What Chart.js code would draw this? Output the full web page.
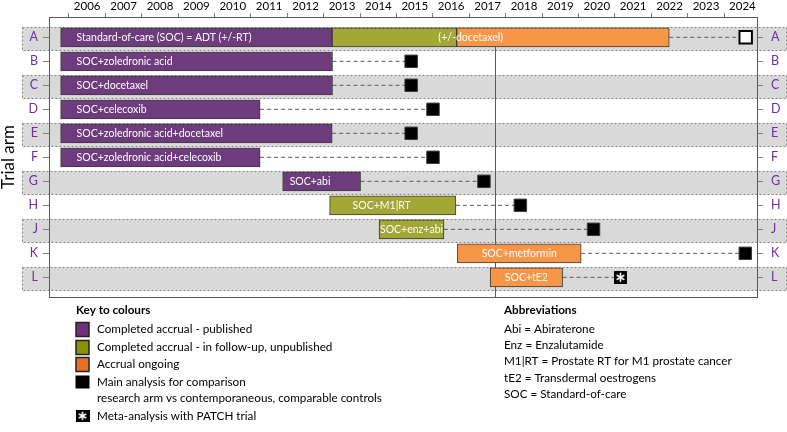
<!DOCTYPE html>
<html><head><meta charset="utf-8">
<script src="https://cdn.jsdelivr.net/npm/chart.js@4.4.1/dist/chart.umd.min.js"></script>
<style>html,body{margin:0;padding:0;background:#fff;} #wrap{width:787px;height:432px;}</style>
</head><body><div id="wrap"><canvas id="c" width="787" height="432"></canvas></div>
<script>
// ---------- DATA ----------
const arms = ['A','B','C','D','E','F','G','H','J','K','L'];
const armLabels = ['Standard-of-care (SOC) = ADT (+/-RT)','SOC+zoledronic acid','SOC+docetaxel','SOC+celecoxib',
  'SOC+zoledronic acid+docetaxel','SOC+zoledronic acid+celecoxib','SOC+abi','SOC+M1|RT','SOC+enz+abi','SOC+metformin','SOC+tE2'];
const publishedStart = [2005.77,2005.77,2005.77,2005.77,2005.77,2005.77,2011.87,null,null,null,null];
const publishedEnd   = [2013.23,2013.24,2013.24,2011.25,2013.23,2011.25,2014.01,null,null,null,null];
const followupStart  = [2013.23,null,null,null,null,null,null,2013.16,2014.52,null,null];
const followupEnd    = [2016.65,null,null,null,null,null,null,2016.63,2016.30,null,null];
const ongoingStart   = [2016.65,null,null,null,null,null,null,null,null,2016.67,2017.57];
const ongoingEnd     = [2022.49,null,null,null,null,null,null,null,null,2020.07,2019.56];
const analysisYear   = [2024.59,2015.40,2015.40,2016.00,2015.40,2016.00,2017.40,2018.40,2020.41,2024.58,2021.15];
const analysisType   = ['planned','main','main','main','main','main','main','main','main','main','meta'];
const yearTicks  = [2006,2007,2008,2009,2010,2011,2012,2013,2014,2015,2016,2017,2018,2019,2020,2021,2022,2023,2024];
const yearLabels = ['2006','2007','2008','2009','2010','2011','2012','2013','2014','2015','2016','2017','2018','2019','2020','2021','2022','2023','2024'];
const referenceYear = 2017.69;
const shadedArms = ['A','C','E','G','J','L'];
const armAExtraLabel = '(+/-docetaxel)';
const keyTitle = 'Key to colours';
const keyItems = ['Completed accrual - published','Completed accrual - in follow-up, unpublished','Accrual ongoing',
  'Main analysis for comparison','research arm vs contemporaneous, comparable controls','Meta-analysis with PATCH trial'];
const abbrTitle = 'Abbreviations';
const abbrItems = ['Abi = Abiraterone','Enz = Enzalutamide','M1|RT = Prostate RT for M1 prostate cancer','tE2 = Transdermal oestrogens','SOC = Standard-of-care'];

// ---------- STYLE ----------
const FONT = 'Lato';
const barColors = {published:'#6e3b7c', followup:'#a3a736', ongoing:'#f79646'};
const keyColors = ['#70307c','#8a9400','#e6702a'];
const labelStyle = {A:{align:'left',pad:16},B:{align:'left',pad:16},C:{align:'left',pad:16},D:{align:'left',pad:16},
  E:{align:'left',pad:16},F:{align:'left',pad:16},G:{align:'left',pad:7},H:{align:'left',pad:23}};
const XMIN = 2005.451, XMAX = 2024.901, YMIN = -0.846, YMAX = 10.82;

Chart.defaults.font.family = FONT;

// build bar segments
const segments = [];
arms.forEach((a,i)=>{
  if (publishedStart[i]!=null) segments.push({x:[publishedStart[i],publishedEnd[i]], y:i, status:'published'});
  if (followupStart[i]!=null) segments.push({x:[followupStart[i],followupEnd[i]], y:i, status:'followup'});
  if (ongoingStart[i]!=null) segments.push({x:[ongoingStart[i],ongoingEnd[i]], y:i, status:'ongoing'});
});
const accrualEnd = arms.map((a,i)=>Math.max(...[publishedEnd[i],followupEnd[i],ongoingEnd[i]].filter(v=>v!=null)));

// meta-analysis marker image (black square with white asterisk)
function makeMetaImg(w,h){
  const cv = document.createElement('canvas'); cv.width=w; cv.height=h;
  const c = cv.getContext('2d'); c.fillStyle='#000'; c.fillRect(0,0,w,h);
  c.strokeStyle='#fff'; c.lineWidth=1.6; c.lineCap='round';
  const cx=w/2, cy=h/2, r=Math.min(w,h)*0.3;
  for (let k=0;k<3;k++){ const a=Math.PI/2 + k*Math.PI/3;
    c.beginPath(); c.moveTo(cx-r*Math.cos(a), cy-r*Math.sin(a)); c.lineTo(cx+r*Math.cos(a), cy+r*Math.sin(a)); c.stroke(); }
  return cv;
}
const metaImg = makeMetaImg(13,13);
const metaKeyImg = makeMetaImg(14,12);

const datasets = [];
datasets.push({type:'bar', indexAxis:'y', xAxisID:'x', yAxisID:'y', data:segments, order:2,
  backgroundColor: ctx => barColors[ctx.raw.status], borderColor:'#3b3b3b', borderWidth:1, borderSkipped:false,
  barThickness:19});
arms.forEach((a,i)=>{
  datasets.push({type:'line', xAxisID:'x', yAxisID:'y', order:3,
    data:[{x:accrualEnd[i],y:i},{x:analysisYear[i],y:i}],
    borderColor:'#595959', borderWidth:1, borderDash:[4,3], pointRadius:0, fill:false});
});
datasets.push({type:'scatter', xAxisID:'x', yAxisID:'y', order:1,
  data: arms.map((a,i)=>({x:analysisYear[i], y:i})),
  pointStyle: ctx => analysisType[ctx.dataIndex]==='meta' ? metaImg : 'rect',
  pointRadius: 8.8,
  pointBackgroundColor: ctx => analysisType[ctx.dataIndex]==='planned' ? '#ffffff' : '#000000',
  pointBorderColor: ctx => analysisType[ctx.dataIndex]==='planned' ? '#000000' : '#3a3a3a',
  pointBorderWidth: ctx => analysisType[ctx.dataIndex]==='planned' ? 2 : 1});

const bandsPlugin = {id:'bands', beforeDraw(chart){
  const ys = chart.scales.y, ctx = chart.ctx;
  const pitch = Math.abs(ys.getPixelForValue(1)-ys.getPixelForValue(0));
  const h = pitch*0.94;
  ctx.save();
  shadedArms.forEach(a=>{
    const i = arms.indexOf(a);
    const cy = ys.getPixelForValue(i)+0.7;
    const top = Math.round(cy-h/2)+0.5, left = 22.5, right = chart.width-0.5;
    ctx.fillStyle='#d9d9d9'; ctx.fillRect(left,top,right-left,Math.round(h));
    ctx.strokeStyle='#808080'; ctx.lineWidth=1; ctx.setLineDash([2,2]);
    ctx.strokeRect(left,top,right-left,Math.round(h));
  });
  ctx.restore();
}};

const refLinePlugin = {id:'refline', beforeDatasetsDraw(chart){
  const xs = chart.scales.x, ys = chart.scales.y, ctx = chart.ctx;
  const x = Math.round(xs.getPixelForValue(referenceYear))+0.5;
  ctx.save(); ctx.strokeStyle='#595959'; ctx.lineWidth=1;
  ctx.beginPath(); ctx.moveTo(x, ys.getPixelForValue(0)+9); ctx.lineTo(x, chart.chartArea.bottom); ctx.stroke();
  ctx.restore();
}};

const barTextPlugin = {id:'bartext', afterDatasetsDraw(chart){
  const meta = chart.getDatasetMeta(0), ctx = chart.ctx;
  ctx.save(); ctx.fillStyle='#ffffff'; ctx.font='10.5px '+FONT; ctx.textBaseline='middle';
  arms.forEach((a,i)=>{
    const idx = segments.findIndex(s=>s.y===i);
    const el = meta.data[idx];
    const x0 = Math.min(el.x, el.base), x1 = Math.max(el.x, el.base);
    const st = labelStyle[a];
    if (st && st.align==='left'){ ctx.textAlign='left'; ctx.fillText(armLabels[i], x0+st.pad, el.y+0.5); }
    else { ctx.textAlign='center'; ctx.fillText(armLabels[i], (x0+x1)/2, el.y+0.5); }
  });
  const xs = chart.scales.x;
  ctx.textAlign='center';
  ctx.fillText(armAExtraLabel, xs.getPixelForValue(followupEnd[0])+14, chart.scales.y.getPixelForValue(0)+0.5);
  ctx.restore();
}};

const keyPlugin = {id:'key', afterDraw(chart){
  const ctx = chart.ctx;
  ctx.save(); ctx.textBaseline='middle'; ctx.textAlign='left'; ctx.fillStyle='#000';
  ctx.font='bold 11.7px '+FONT; ctx.fillText(keyTitle, 76, 310);
  ctx.fillText(abbrTitle, 504, 310);
  ctx.font='11.7px '+FONT;
  const ky = [329.5, 347.5, 364.5, 382, 398.5, 416];
  [0,1,2].forEach(k=>{ ctx.fillStyle=keyColors[k]; ctx.fillRect(76,ky[k]-7,13,14);
    ctx.strokeStyle='#222'; ctx.lineWidth=1.5; ctx.strokeRect(76,ky[k]-7,13,14); });
  ctx.fillStyle='#000'; ctx.fillRect(75.5,ky[3]-6.5,14,13);
  ctx.drawImage(metaKeyImg, 75.5, ky[5]-6);
  ctx.fillStyle='#000';
  keyItems.forEach((t,k)=>ctx.fillText(t, 97, ky[k]));
  const ay = [329.5, 345, 361.5, 378, 394.5];
  abbrItems.forEach((t,k)=>ctx.fillText(t, 504, ay[k]));
  ctx.restore();
}};

const tickStyle = {color:'#7030a0', font:{family:FONT,size:12.5}};
new Chart(document.getElementById('c'), {
  type:'bar',
  data:{datasets},
  plugins:[bandsPlugin, refLinePlugin, barTextPlugin, keyPlugin],
  options:{
    responsive:false, animation:false, events:[],
    layout:{padding:{left:0,right:0,top:0,bottom:135}},
    plugins:{legend:{display:false}, tooltip:{enabled:false}},
    scales:{
      x:{type:'linear', position:'top', min:XMIN, max:XMAX, stacked:false, offset:false,
        afterBuildTicks: s => { s.ticks = yearTicks.flatMap(v=>[{value:v},{value:v+0.5}]); },
        afterFit: s => { s.height = 17; },
        border:{display:true,color:'#595959',width:1},
        grid:{offset:false, drawOnChartArea:false, drawTicks:true, tickLength:4, tickWidth:1,
          tickColor: ctx => (ctx.tick && Number.isInteger(ctx.tick.value)) ? '#808080' : 'rgba(0,0,0,0)'},
        ticks:{padding:0, maxRotation:0, minRotation:0, autoSkip:false, color:'#000', font:{family:FONT,size:11.5},
          callback: v => Number.isInteger(v) ? '' : yearLabels[yearTicks.indexOf(v-0.5)]}},
      x2:{type:'linear', axis:'x', position:'bottom', min:XMIN, max:XMAX, offset:false,
        afterFit: s => { s.height = 0; },
        border:{display:true,color:'#595959',width:1},
        grid:{offset:false, drawOnChartArea:false, drawTicks:false}, ticks:{display:false}},
      y:{type:'linear', position:'left', reverse:true, min:YMIN, max:YMAX, offset:false, stacked:false,
        afterBuildTicks: s => { s.ticks = arms.map((a,i)=>({value:i})); },
        afterFit: s => { s.width = 49; },
        border:{display:true,color:'#595959',width:1},
        grid:{offset:false, drawOnChartArea:false, tickLength:6, tickColor:'#808080'},
        ticks:{...tickStyle, padding:5, autoSkip:false, callback: v => arms[v]},
        title:{display:true, text:'Trial arm', color:'#000', font:{family:FONT,size:17,lineHeight:1}, padding:0}},
      y2:{type:'linear', axis:'y', position:'right', reverse:true, min:YMIN, max:YMAX, offset:false,
        afterBuildTicks: s => { s.ticks = arms.map((a,i)=>({value:i})); },
        afterFit: s => { s.width = 30; },
        border:{display:true,color:'#595959',width:1},
        grid:{offset:false, drawOnChartArea:false, tickLength:6, tickColor:'#808080'},
        ticks:{...tickStyle, padding:8, autoSkip:false, callback: v => arms[v]}}
    }
  }
});
</script></body></html>
